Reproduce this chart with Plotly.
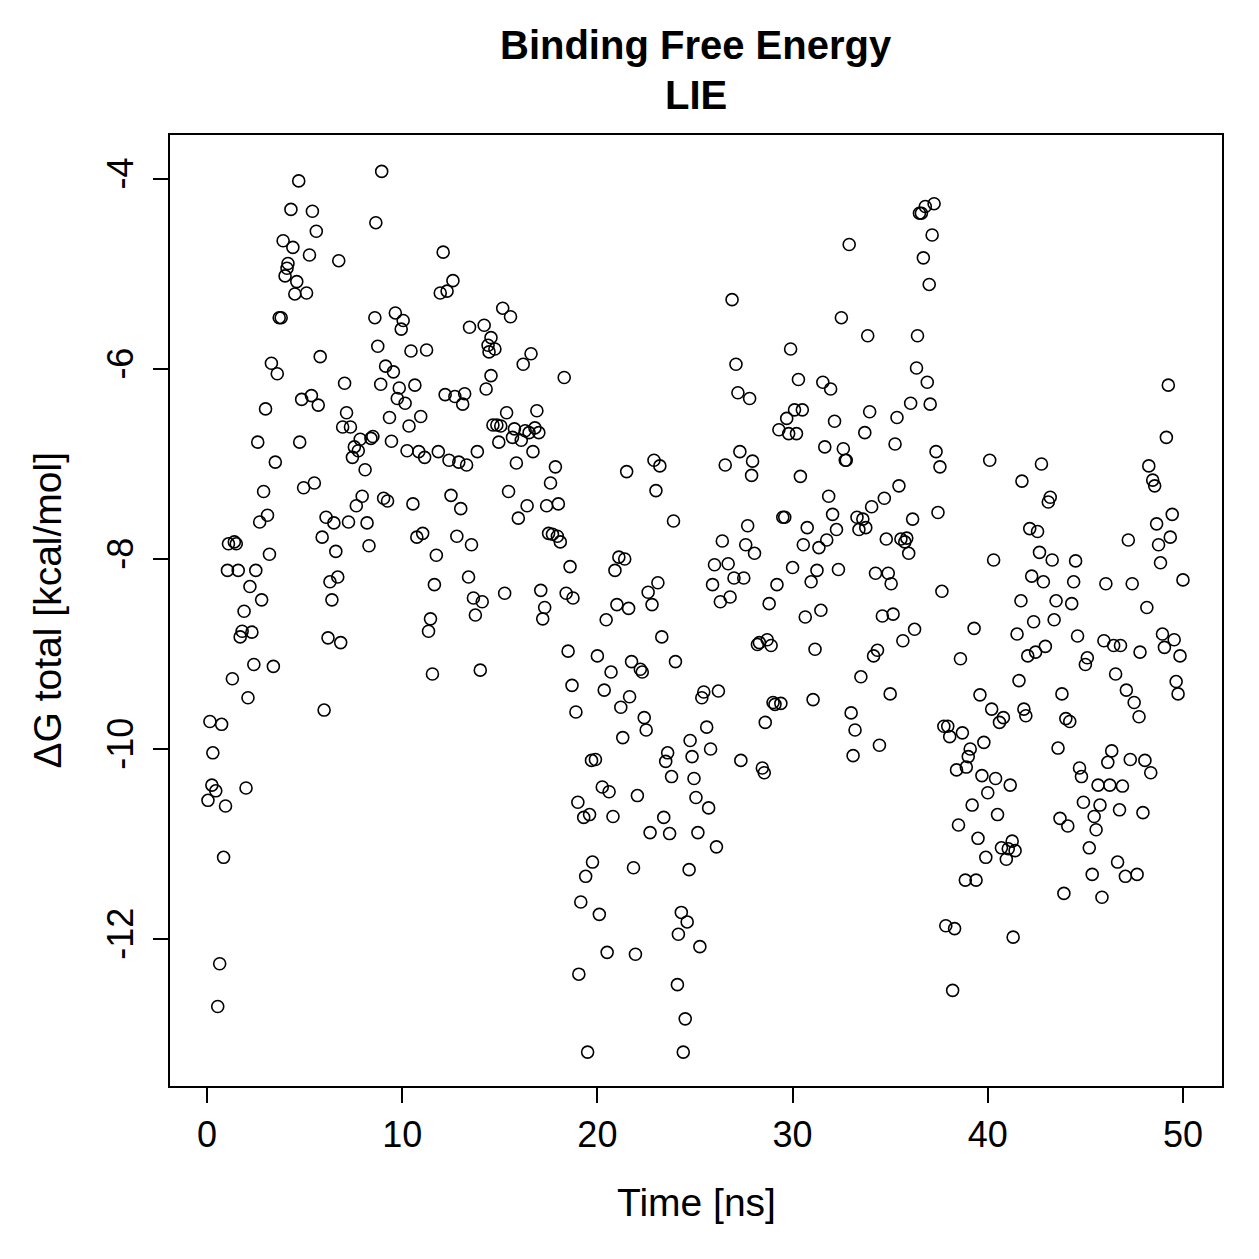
import plotly.graph_objects as go

time_ns = [0.05,0.15,0.3,0.25,0.45,0.55,0.65,0.75,0.85,0.95,1.05,1.1,1.3,1.4,1.5,1.6,1.7,1.8,1.9,2.0,
2.1,2.2,2.3,2.4,2.5,2.6,2.7,2.8,2.9,3.0,3.1,3.2,3.3,3.4,3.5,3.6,3.7,3.8,3.9,4.0,
4.1,4.15,4.3,4.4,4.5,4.6,4.7,4.75,4.85,4.95,5.1,5.25,5.35,5.4,5.5,5.6,5.7,5.8,5.9,6.0,
6.1,6.2,6.3,6.4,6.5,6.6,6.7,6.75,6.85,6.95,7.05,7.15,7.25,7.35,7.45,7.55,7.65,7.75,7.85,7.95,
8.1,8.2,8.3,8.4,8.5,8.6,8.65,8.75,8.9,8.95,9.05,9.15,9.25,9.35,9.45,9.55,9.65,9.75,9.85,9.95,
10.05,10.15,10.25,10.35,10.45,10.55,10.65,10.75,10.85,10.95,11.05,11.15,11.25,11.35,11.45,11.55,11.65,11.75,11.85,11.95,
12.1,12.2,12.3,12.4,12.5,12.6,12.7,12.8,12.9,13.0,13.1,13.2,13.3,13.4,13.45,13.55,13.65,13.75,13.85,14.0,
14.1,14.2,14.3,14.4,14.45,14.55,14.55,14.65,14.75,14.85,14.95,15.05,15.15,15.25,15.35,15.45,15.55,15.65,15.75,15.85,
15.95,16.1,16.2,16.3,16.4,16.5,16.6,16.7,16.8,16.9,17.0,17.1,17.2,17.3,17.4,17.5,17.6,17.7,17.85,17.95,
18.0,18.1,18.3,18.4,18.5,18.6,18.7,18.75,18.9,19.0,19.05,19.15,19.3,19.4,19.5,19.6,19.7,19.75,19.9,20.0,
20.1,20.25,20.35,20.45,20.5,20.6,20.7,20.8,20.9,21.0,21.1,21.2,21.3,21.4,21.5,21.6,21.65,21.75,21.85,21.95,
22.05,22.2,22.3,22.4,22.5,22.6,22.7,22.8,22.9,23.0,23.1,23.2,23.3,23.4,23.5,23.6,23.7,23.8,23.9,24.0,
24.1,24.15,24.3,24.4,24.5,24.6,24.7,24.75,24.85,24.95,25.05,25.15,25.25,25.35,25.45,25.6,25.7,25.8,25.9,26.0,
26.1,26.2,26.3,26.4,26.55,26.7,26.8,26.9,27.0,27.1,27.2,27.3,27.35,27.5,27.6,27.7,27.8,27.9,27.95,28.05,
28.2,28.3,28.45,28.55,28.6,28.7,28.8,28.9,29.0,29.1,29.2,29.3,29.4,29.5,29.6,29.7,29.8,29.9,30.0,30.1,
30.2,30.3,30.4,30.5,30.55,30.65,30.75,30.95,31.05,31.15,31.25,31.35,31.45,31.55,31.65,31.75,31.85,31.95,32.05,32.15,
32.25,32.35,32.5,32.6,32.7,32.75,32.9,33.0,33.1,33.2,33.3,33.4,33.5,33.6,33.7,33.75,33.85,33.95,34.05,34.15,
34.25,34.35,34.45,34.6,34.7,34.8,34.9,35.0,35.05,35.15,35.25,35.35,35.45,35.55,35.65,35.75,35.85,35.95,36.05,36.15,
36.25,36.35,36.4,36.5,36.6,36.7,36.8,36.9,37.0,37.05,37.15,37.25,37.35,37.45,37.55,37.65,37.75,37.85,37.95,38.05,
38.2,38.3,38.4,38.5,38.6,38.7,38.85,38.9,39.0,39.1,39.2,39.3,39.4,39.5,39.6,39.7,39.8,39.9,40.0,40.1,
40.2,40.3,40.4,40.5,40.6,40.7,40.8,40.95,41.05,41.15,41.25,41.3,41.4,41.5,41.6,41.7,41.75,41.85,41.95,42.05,
42.15,42.25,42.35,42.45,42.55,42.65,42.75,42.85,42.95,43.1,43.2,43.3,43.4,43.5,43.6,43.7,43.8,43.9,44.0,44.1,
44.2,44.3,44.4,44.5,44.6,44.7,44.8,44.9,45.0,45.1,45.2,45.35,45.45,45.55,45.65,45.75,45.85,45.95,46.05,46.15,
46.25,46.35,46.45,46.55,46.65,46.75,46.8,46.9,47.05,47.1,47.2,47.3,47.4,47.5,47.65,47.75,47.8,47.95,48.05,48.15,
48.25,48.35,48.45,48.55,48.65,48.75,48.85,48.95,49.05,49.15,49.25,49.35,49.45,49.55,49.65,49.75,49.85,50.0]

dg_total = [-10.54,-9.71,-10.04,-10.38,-10.44,-12.71,-12.26,-9.74,-11.14,-10.6,-8.12,-7.84,-9.26,-7.82,-7.84,-8.12,-8.82,-8.76,-8.55,-10.41,
-9.46,-8.29,-8.77,-9.11,-8.12,-6.77,-7.61,-8.43,-7.29,-6.42,-7.54,-7.95,-5.94,-9.13,-6.98,-6.05,-5.46,-5.46,-4.65,-5.02,
-4.94,-4.89,-4.32,-4.72,-5.21,-5.08,-4.02,-6.77,-6.32,-7.25,-5.2,-4.8,-6.28,-4.34,-7.2,-4.55,-6.38,-5.87,-7.77,-9.59,
-7.56,-8.83,-8.24,-8.43,-7.62,-7.92,-8.19,-4.86,-8.88,-6.61,-6.15,-6.46,-7.61,-6.61,-6.93,-6.82,-7.44,-6.86,-6.74,-7.34,
-7.06,-7.62,-7.86,-6.73,-6.71,-5.46,-4.46,-5.76,-6.16,-3.92,-7.36,-5.97,-7.39,-6.51,-6.76,-6.03,-5.41,-6.31,-6.2,-5.58,
-5.49,-6.36,-6.86,-6.6,-5.81,-7.42,-6.17,-7.77,-6.87,-6.5,-7.73,-6.93,-5.8,-8.76,-8.63,-9.21,-8.27,-7.96,-6.87,-5.2,
-4.77,-6.27,-5.18,-6.96,-7.33,-5.07,-6.29,-7.76,-6.98,-7.47,-6.37,-6.26,-7.01,-8.19,-5.56,-7.85,-8.41,-8.59,-6.87,-9.17,
-8.45,-5.54,-6.21,-5.75,-5.82,-6.07,-5.67,-6.59,-5.79,-6.59,-6.77,-6.6,-5.36,-8.36,-6.46,-7.29,-5.45,-6.72,-6.63,-6.99,
-7.57,-6.75,-5.95,-6.65,-7.44,-6.67,-5.84,-6.87,-6.62,-6.44,-6.67,-8.33,-8.63,-8.51,-7.44,-7.73,-7.2,-7.74,-7.03,-7.76,
-7.42,-7.82,-6.09,-8.36,-8.97,-8.08,-9.33,-8.41,-9.61,-10.56,-12.37,-11.61,-10.72,-11.34,-13.19,-10.69,-10.12,-11.19,-10.11,-9.02,
-11.74,-10.4,-9.38,-8.64,-12.14,-10.45,-9.19,-10.71,-8.12,-8.48,-7.98,-9.56,-9.88,-8.0,-7.08,-8.52,-9.45,-9.08,-11.25,-12.16,
-10.49,-9.16,-9.19,-9.67,-9.8,-8.35,-10.88,-8.48,-6.96,-7.28,-8.25,-7.02,-8.82,-10.72,-10.13,-10.04,-10.89,-10.29,-7.6,-9.08,
-12.48,-11.95,-11.72,-13.19,-12.84,-11.82,-11.27,-9.91,-10.08,-10.31,-10.51,-10.88,-12.08,-9.46,-9.4,-9.77,-10.62,-10.0,-8.27,-8.06,
-11.03,-9.39,-8.45,-7.81,-7.01,-8.05,-8.4,-5.27,-8.2,-5.95,-6.25,-6.87,-10.12,-8.2,-7.85,-7.65,-6.31,-7.12,-6.97,-7.94,
-8.9,-8.88,-10.2,-10.25,-9.72,-8.85,-8.47,-8.91,-9.51,-9.53,-8.27,-6.64,-9.52,-7.56,-7.56,-6.52,-6.68,-5.79,-8.09,-6.43,
-6.68,-6.11,-7.13,-6.43,-7.85,-8.61,-7.67,-8.24,-9.48,-8.95,-8.12,-7.88,-8.54,-6.14,-6.82,-7.8,-7.34,-6.21,-7.53,-6.55,
-7.69,-8.11,-5.46,-6.84,-6.96,-6.96,-4.69,-9.62,-10.07,-9.8,-7.56,-7.69,-9.24,-7.58,-6.67,-7.67,-5.65,-6.45,-7.45,-9.02,
-8.15,-8.96,-9.96,-8.6,-7.36,-7.79,-8.15,-9.42,-8.26,-8.58,-6.79,-6.51,-7.23,-7.79,-8.86,-7.82,-7.78,-7.94,-6.36,-7.58,
-8.74,-5.99,-5.65,-4.36,-4.36,-4.83,-4.29,-6.14,-5.11,-6.37,-4.59,-4.26,-6.87,-7.51,-7.03,-8.34,-9.76,-11.86,-9.76,-9.87,
-12.54,-11.89,-10.22,-10.8,-9.05,-9.83,-11.38,-10.19,-10.08,-10.0,-10.59,-8.73,-11.38,-10.94,-9.43,-10.28,-9.93,-11.14,-10.46,-6.96,
-9.58,-8.01,-10.31,-10.69,-9.72,-11.04,-9.67,-11.16,-11.05,-10.38,-10.97,-11.98,-11.07,-8.79,-9.28,-8.44,-7.18,-9.58,-9.65,-9.02,
-7.68,-8.18,-8.66,-8.98,-7.71,-7.93,-7.0,-8.24,-8.92,-7.4,-7.35,-8.01,-8.64,-8.44,-9.99,-10.73,-9.42,-11.52,-9.68,-10.81,
-9.71,-8.47,-8.24,-8.02,-8.81,-10.2,-10.29,-10.56,-9.11,-9.04,-11.04,-11.32,-10.71,-10.85,-10.38,-10.59,-11.56,-8.86,-8.26,-10.14,
-10.38,-10.02,-8.91,-9.21,-11.19,-10.64,-8.91,-10.39,-11.34,-9.38,-7.8,-10.11,-8.26,-9.51,-11.32,-9.66,-8.98,-10.67,-10.12,-8.51,
-7.02,-10.25,-7.17,-7.23,-7.63,-7.85,-8.04,-8.79,-8.93,-6.72,-6.17,-7.77,-7.53,-8.85,-9.29,-9.42,-9.02,-8.22]

x_ticks = [0, 10, 20, 30, 40, 50]
y_ticks = [-4, -6, -8, -10, -12]
title_lines = ["Binding Free Energy", "LIE"]
x_label = "Time [ns]"
y_label = "ΔG total [kcal/mol]"

FONT = "Liberation Sans, Arial, Helvetica, sans-serif"

fig = go.Figure()
fig.add_trace(go.Scatter(
    x=time_ns, y=dg_total, mode="markers",
    marker=dict(symbol="circle-open", size=12, color="black", line=dict(width=1.6, color="black")),
    showlegend=False, hoverinfo="x+y",
))

axis_common = dict(
    showgrid=False, zeroline=False, showline=True, mirror=True,
    linecolor="black", linewidth=2, ticks="outside", ticklen=15, tickwidth=2,
    tickcolor="black", tickfont=dict(family=FONT, size=36, color="black"),
)

fig.update_layout(
    width=1259, height=1259,
    margin=dict(l=170, r=37, t=135, b=173, pad=0),
    paper_bgcolor="white", plot_bgcolor="white",
    font=dict(family=FONT, color="black"),
    xaxis=dict(range=[-1.895, 52.0], tickvals=x_ticks, ticktext=[str(v) for v in x_ticks],
               ticklabelstandoff=1, **axis_common),
    yaxis=dict(range=[-13.547, -3.537], tickvals=y_ticks, ticktext=[str(v) for v in y_ticks],
               tickangle=-90, ticklabelstandoff=6, **axis_common),
    annotations=[
        dict(text="<b>%s</b>" % title_lines[0], x=0.5, y=1.0946, xref="paper", yref="paper",
             xanchor="center", yanchor="middle", showarrow=False,
             font=dict(family=FONT, size=40, color="black")),
        dict(text="<b>%s</b>" % title_lines[1], x=0.5, y=1.042, xref="paper", yref="paper",
             xanchor="center", yanchor="middle", showarrow=False,
             font=dict(family=FONT, size=40, color="black")),
        dict(text=x_label, x=0.5, y=-0.123, xref="paper", yref="paper",
             xanchor="center", yanchor="middle", showarrow=False,
             font=dict(family=FONT, size=39, color="black")),
        dict(text=y_label, x=-0.116, y=0.5, xref="paper", yref="paper", textangle=-90,
             xanchor="center", yanchor="middle", showarrow=False,
             font=dict(family=FONT, size=39, color="black")),
    ],
)

fig.write_html("out.html")
